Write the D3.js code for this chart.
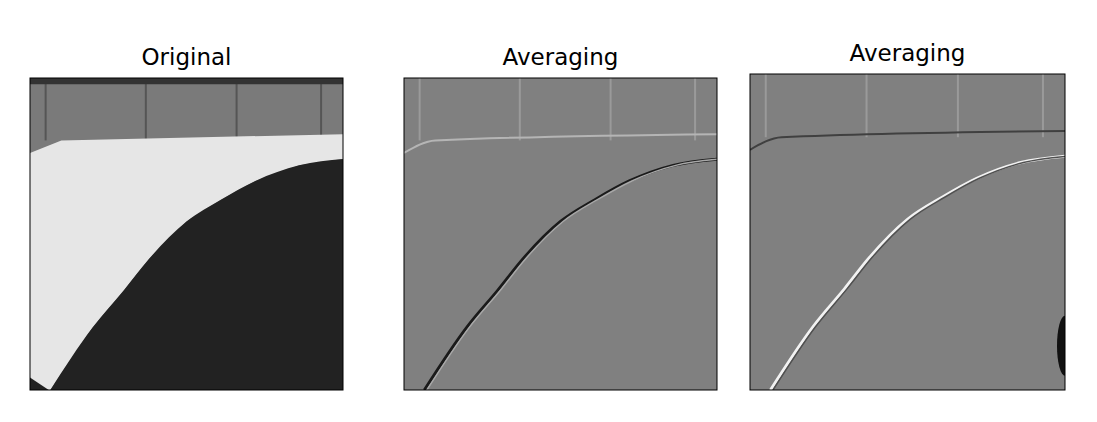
<!DOCTYPE html>
<html><head><meta charset="utf-8">
<script src="https://cdn.jsdelivr.net/npm/d3@7"></script>
<style>body{margin:0;background:#fff}text{font-family:"DejaVu Sans",sans-serif}</style>
</head><body><div id="chart"></div>
<script>
// image content in normalised image coordinates (0..1)
var titles = ["Original", "Averaging", "Averaging"];
var curveX = [0.065, 0.2, 0.3, 0.38, 0.5, 0.61, 0.72, 0.86, 1.0];
var curveY = [1.0, 0.8, 0.68, 0.58, 0.46, 0.39, 0.33, 0.28, 0.26];
var edgeX = [0.0, 0.1, 1.0];
var edgeY = [0.24, 0.2, 0.18];
var seams = [0.05, 0.37, 0.66, 0.93];

var panels = [
  {x0: 30, x1: 343, y0: 78, y1: 390, ty: 56},
  {x0: 404, x1: 717, y0: 78, y1: 390, ty: 56},
  {x0: 750, x1: 1065, y0: 74, y1: 390, ty: 52}
];

var svg = d3.select("#chart").append("svg").attr("width", 1097).attr("height", 422);

var curve = curveX.map(function(d, i) { return [d, curveY[i]]; });
var edge = edgeX.map(function(d, i) { return [d, edgeY[i]]; });

panels.forEach(function(p, k) {
  var x = d3.scaleLinear().domain([0, 1]).range([p.x0, p.x1]);
  var y = d3.scaleLinear().domain([0, 1]).range([p.y0, p.y1]);
  var line = d3.line().x(function(d) { return x(d[0]); }).y(function(d) { return y(d[1]); }).curve(d3.curveMonotoneX);
  var g = svg.append("g");
  var clip = "clip" + k;
  g.append("clipPath").attr("id", clip).append("rect")
    .attr("x", p.x0).attr("y", p.y0).attr("width", p.x1 - p.x0).attr("height", p.y1 - p.y0);
  var img = g.append("g").attr("clip-path", "url(#" + clip + ")");
  var base = k == 0 ? "#7a7a7a" : "#808080";
  img.append("rect").attr("x", p.x0).attr("y", p.y0).attr("width", p.x1 - p.x0).attr("height", p.y1 - p.y0).attr("fill", base);
  // wall seams
  seams.forEach(function(s) {
    img.append("line").attr("x1", x(s)).attr("x2", x(s)).attr("y1", y(0)).attr("y2", y(0.2))
      .attr("stroke", k == 0 ? "#555" : "#9a9a9a").attr("stroke-width", 2);
  });
  if (k == 0) {
    img.append("rect").attr("x", p.x0).attr("y", p.y0).attr("width", p.x1 - p.x0).attr("height", y(0.02) - p.y0).attr("fill", "#333");
    // white floor
    var floor = edge.concat([[1, 0.26]]).concat(curve.slice().reverse()).concat([[0, 1]]);
    img.append("path").attr("d", d3.line().x(function(d) { return x(d[0]); }).y(function(d) { return y(d[1]); })(floor))
      .attr("fill", "#e6e6e6");
    img.append("path").attr("d", line(curve) + "L" + x(1) + "," + y(1) + "Z").attr("fill", "#222");
    img.append("path").attr("d", d3.line().x(function(d) { return x(d[0]); }).y(function(d) { return y(d[1]); })([[0, 0.96], [0.06, 1], [0, 1]]))
      .attr("fill", "#222");
  } else {
    img.append("path").attr("d", line(edge)).attr("fill", "none")
      .attr("stroke", k == 1 ? "#b5b5b5" : "#404040").attr("stroke-width", 2);
    img.append("path").attr("d", line(curve)).attr("fill", "none")
      .attr("stroke", k == 1 ? "#1a1a1a" : "#f2f2f2").attr("stroke-width", 3);
    img.append("path").attr("d", line(curve.map(function(d) { return [d[0] + 0.008, d[1]]; }))).attr("fill", "none")
      .attr("stroke", k == 1 ? "#a8a8a8" : "#505050").attr("stroke-width", 1.5);
    if (k == 2) {
      img.append("ellipse").attr("cx", x(1)).attr("cy", y(0.86)).attr("rx", 8).attr("ry", 30).attr("fill", "#111");
    }
  }
  g.append("rect").attr("x", p.x0).attr("y", p.y0).attr("width", p.x1 - p.x0).attr("height", p.y1 - p.y0)
    .attr("fill", "none").attr("stroke", "#000").attr("stroke-width", 1);
  g.append("text").attr("x", (p.x0 + p.x1) / 2).attr("y", p.ty + 9).attr("text-anchor", "middle")
    .attr("font-size", 23).text(titles[k]);
});
</script></body></html>
